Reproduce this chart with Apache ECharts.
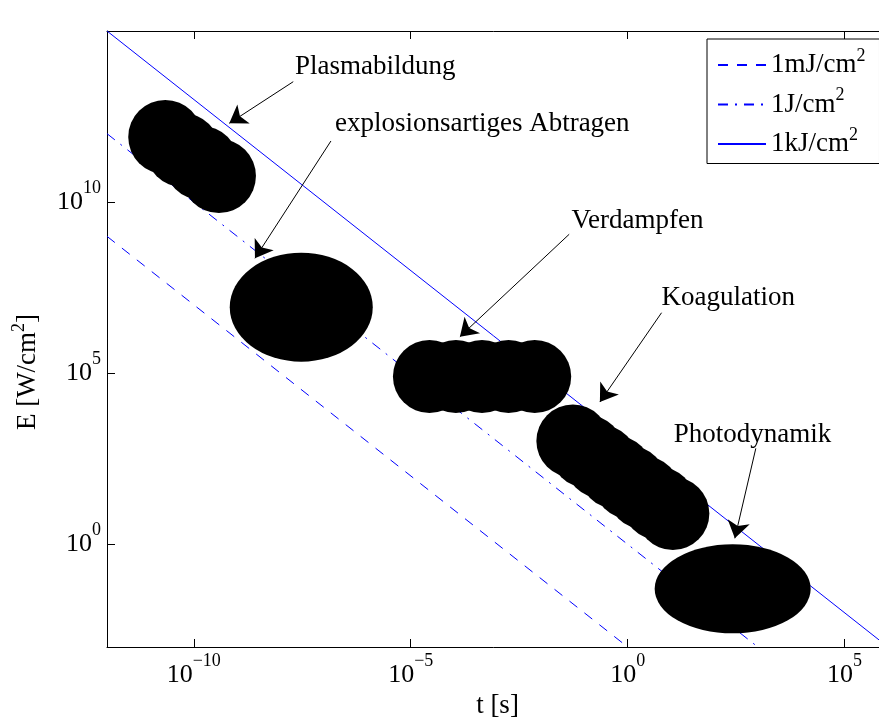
<!DOCTYPE html>
<html><head><meta charset="utf-8">
<script src="https://cdn.jsdelivr.net/npm/echarts@6/dist/echarts.min.js"></script>
<style>html,body{margin:0;padding:0;background:#fff}#c{width:879px;height:718px}</style>
</head><body><div id="c"></div>
<script>
// ---- data ----
const xTicks = [1e-10, 1e-5, 1, 1e5];
const yTicks = [1, 1e5, 1e10, 1e15];
const fluenceNames = ['1mJ/cm2', '1J/cm2', '1kJ/cm2'];
const line1mJ = [[1e-12, 1e9], [1, 1e-3]];
const line1J = [[1e-12, 1e12], [1e3, 1e-3]];
const line1kJ = [[1e-12, 1e15], [1e6, 1e-3]];
const plasmaT = [2.2e-11, 5.6e-11, 1.5e-10, 3.8e-10];
const plasmaE = [8.0e11, 3.3e11, 1.4e11, 5.8e10];
const explosionT = [3.0e-8];
const explosionE = [8.5e6];
const verdampfenT = [2.7e-5, 1.1e-4, 4.4e-4, 1.8e-3, 7.2e-3];
const verdampfenE = [8e4, 8e4, 8e4, 8e4, 8e4];
const koagT = [0.0546, 0.116, 0.248, 0.530, 1.13, 2.41, 5.15, 11.0];
const koagE = [1045, 520, 259, 129, 64.3, 32.0, 15.96, 7.94];
const photoT = [263];
const photoE = [0.05];
const labelNames = ['Plasmabildung', 'explosionsartiges Abtragen', 'Verdampfen', 'Koagulation', 'Photodynamik'];
const labelT = [2.15e-8, 1.79e-7, 0.0509, 6.04, 11.6];
const labelE = [8.87e13, 1.95e12, 2.81e9, 1.58e7, 1596];
const arrowFromT = [1.96e-8, 1.45e-7, 0.0449, 6.04, 899];
const arrowFromE = [3.30e13, 6.11e11, 1.15e9, 5.86e6, 638];
const arrowToT = [6.58e-10, 2.57e-9, 1.36e-4, 0.229, 295];
const arrowToE = [2.01e12, 2.28e8, 1.17e6, 1.44e4, 1.50];

// ---- chart ----
const FONT = 'Liberation Serif';
const zip = (a, b) => a.map((v, i) => [v, b[i]]);
function supLabel(v) {
  const e = Math.round(Math.log10(v));
  return '{b|10}{s|' + (e < 0 ? '\u2212' + (-e) : e) + '}';
}
const tickRich = {
  b: { fontFamily: FONT, fontSize: 26, color: '#000' },
  s: { fontFamily: FONT, fontSize: 18, color: '#000', padding: [0, 0, 28, 0] }
};
const legendRich = {
  a: { fontFamily: FONT, fontSize: 27, color: '#000' },
  s: { fontFamily: FONT, fontSize: 18, color: '#000', padding: [0, 0, 18, 0] }
};
function xAxisCfg(pos, showLabel) {
  return {
    type: 'log', logBase: 10, min: 1e-12, max: 1e6, position: pos,
    axisLine: { show: true, onZero: false, lineStyle: { color: '#000', width: 1 } },
    axisTick: { show: true, inside: true, length: 8, customValues: xTicks, lineStyle: { color: '#000' } },
    axisLabel: { show: showLabel, customValues: xTicks, formatter: supLabel, rich: tickRich, margin: 5 },
    splitLine: { show: false }, minorTick: { show: false }, minorSplitLine: { show: false }
  };
}
function yAxisCfg(pos, showLabel) {
  return {
    type: 'log', logBase: 10, min: 1e-3, max: 1e15, position: pos,
    axisLine: { show: true, onZero: false, lineStyle: { color: '#000', width: 1 } },
    axisTick: { show: true, inside: true, length: 8, customValues: yTicks, lineStyle: { color: '#000' } },
    axisLabel: { show: showLabel, customValues: yTicks, formatter: supLabel, rich: tickRich, margin: 6 },
    splitLine: { show: false }, minorTick: { show: false }, minorSplitLine: { show: false }
  };
}
const blob = (name, t, e, size) => ({
  name: name, type: 'scatter', data: zip(t, e), symbol: 'circle', symbolSize: size,
  itemStyle: { color: '#000', opacity: 1 }, z: 3, silent: true
});
const chart = echarts.init(document.getElementById('c'), null, { renderer: 'canvas' });
const xa0 = xAxisCfg('bottom', true);
xa0.name = 't [s]'; xa0.nameLocation = 'middle'; xa0.nameGap = 44;
xa0.nameTextStyle = { fontFamily: FONT, fontSize: 27, color: '#000' };
chart.setOption({
  animation: false,
  backgroundColor: '#fff',
  grid: { left: 107, top: 31, right: -9, bottom: 71, containLabel: false, outerBoundsMode: 'none' },
  xAxis: [xa0, xAxisCfg('top', false)],
  yAxis: [yAxisCfg('left', true), yAxisCfg('right', false)],
  legend: {
    data: fluenceNames, orient: 'vertical', left: 707, top: 39,
    itemWidth: 48, itemHeight: 14, itemGap: 8, selectedMode: false,
    borderColor: '#000', borderWidth: 1, backgroundColor: '#fff', borderRadius: 0,
    padding: [8, 14, 6, 10],
    itemStyle: { opacity: 0 },
    formatter: n => '{a|' + n.slice(0, -1) + '}{s|2}',
    textStyle: { rich: legendRich }
  },
  series: [
    { name: fluenceNames[0], type: 'line', data: line1mJ, showSymbol: false, symbol: 'none', z: 2,
      lineStyle: { color: '#0000ff', width: 1, type: [10, 9] }, itemStyle: { color: '#0000ff' } },
    { name: fluenceNames[1], type: 'line', data: line1J, showSymbol: false, symbol: 'none', z: 2,
      lineStyle: { color: '#0000ff', width: 1, type: [10, 7, 2, 7] }, itemStyle: { color: '#0000ff' } },
    { name: fluenceNames[2], type: 'line', data: line1kJ, showSymbol: false, symbol: 'none', z: 2,
      lineStyle: { color: '#0000ff', width: 1, type: 'solid' }, itemStyle: { color: '#0000ff' } },
    blob('Plasmabildung', plasmaT, plasmaE, 74),
    blob('explosionsartiges Abtragen', explosionT, explosionE, [143, 109]),
    blob('Verdampfen', verdampfenT, verdampfenE, 73),
    blob('Koagulation', koagT, koagE, 73),
    blob('Photodynamik', photoT, photoE, [156, 89]),
    {
      type: 'lines', coordinateSystem: 'cartesian2d', z: 4, silent: true,
      symbol: ['none', 'arrow'], symbolSize: [13, 17],
      lineStyle: { color: '#000', width: 1, opacity: 1 },
      data: arrowFromT.map((t, i) => ({ coords: [[t, arrowFromE[i]], [arrowToT[i], arrowToE[i]]] }))
    }
  ]
});
// annotation texts placed through the chart's own scales
const texts = labelNames.map((n, i) => {
  const p = chart.convertToPixel({ gridIndex: 0 }, [labelT[i], labelE[i]]);
  return {
    type: 'text', x: p[0], y: p[1], z: 100,
    style: { text: n, fill: '#000', font: '27px "Liberation Serif"', align: 'left', verticalAlign: 'middle' }
  };
});
texts.push({
  type: 'text', x: 28, y: 372, rotation: Math.PI / 2, z: 100,
  style: { text: '{a|E [W/cm}{s|2}{a|]}', align: 'center', verticalAlign: 'middle', fill: '#000', rich: legendRich }
});
chart.setOption({ graphic: texts });
</script></body></html>
